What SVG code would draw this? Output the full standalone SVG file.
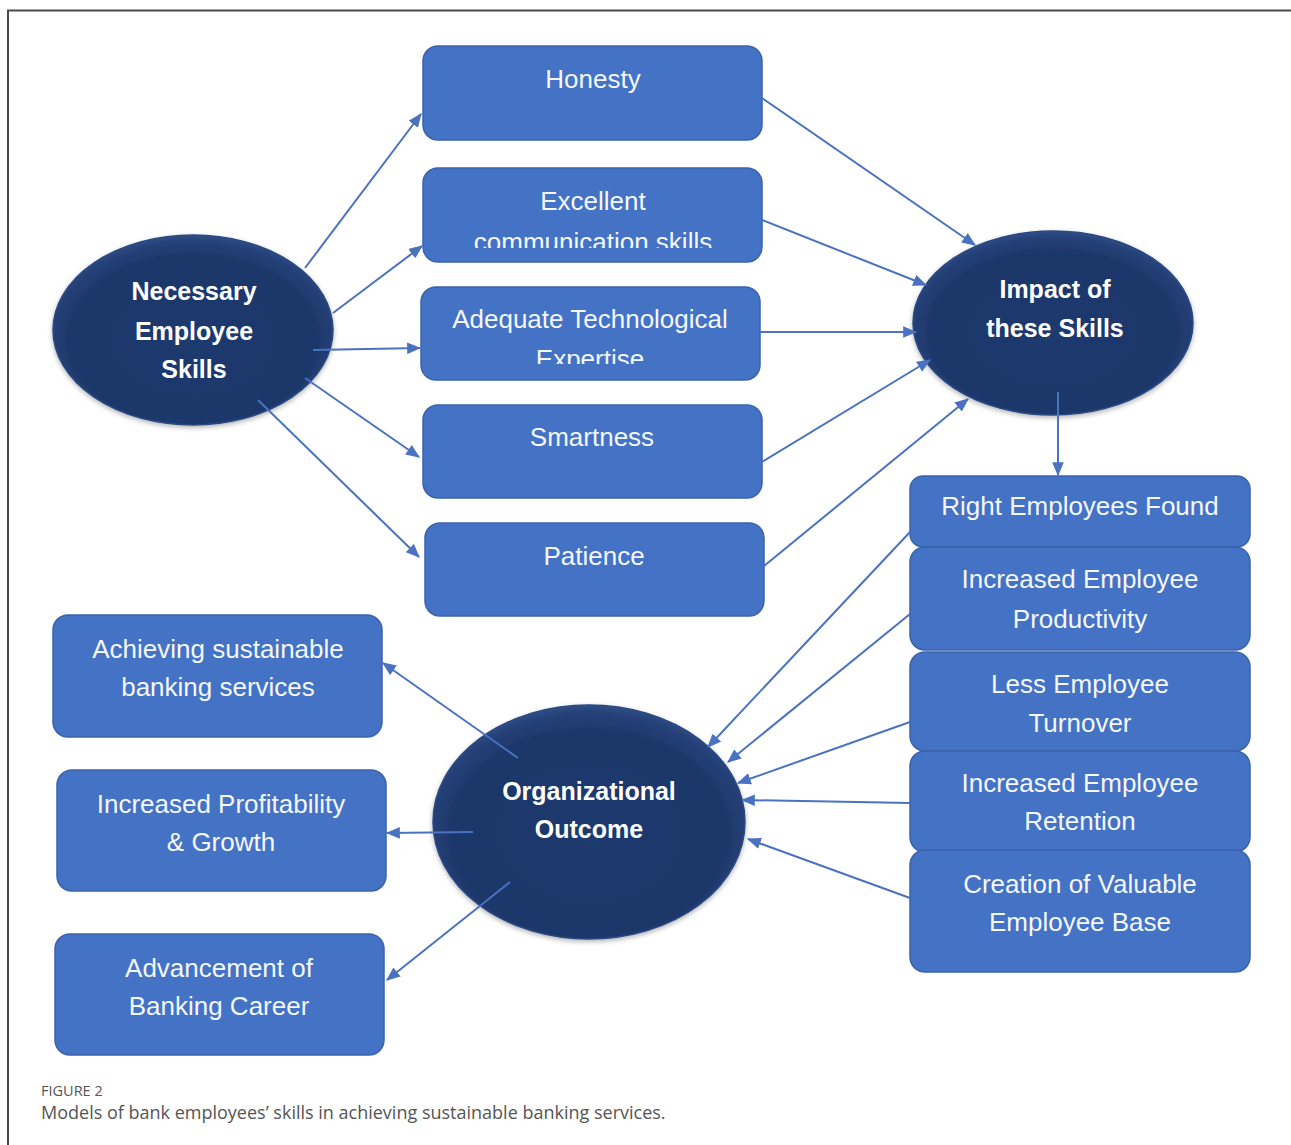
<svg xmlns="http://www.w3.org/2000/svg" width="1291" height="1145" viewBox="0 0 1291 1145">
  <style>
    .box { fill: #4472c4; stroke: #3a63ab; stroke-width: 1.5; }
    .btxt { font-family: "Liberation Sans", Arial, sans-serif; font-size: 26px; fill: #f4f7fc; text-anchor: middle; }
    .oval { fill: url(#navy); stroke: #2b4a82; stroke-width: 1.5; filter: url(#soft); }
    .otxt { font-family: "Liberation Sans", Arial, sans-serif; font-size: 25px; font-weight: bold; fill: #ffffff; text-anchor: middle; }
    .link { stroke: #4a72c0; stroke-width: 2; fill: none; marker-end: url(#head); }
    .cap1 { font-family: "Open Sans", "Liberation Sans", sans-serif; font-size: 14.5px; fill: #555; }
    .cap2 { font-family: "Open Sans", "Liberation Sans", sans-serif; font-size: 18px; fill: #555; }
  </style>
  <defs>
    <radialGradient id="navy" cx="50%" cy="55%" r="55%">
      <stop offset="0" stop-color="#1f3a6e"/>
      <stop offset="0.8" stop-color="#1e376a"/>
      <stop offset="0.95" stop-color="#26437a"/>
      <stop offset="1" stop-color="#324f88"/>
    </radialGradient>
    <filter id="soft" x="-10%" y="-10%" width="120%" height="125%">
      <feGaussianBlur in="SourceAlpha" stdDeviation="2.5"/>
      <feOffset dy="2" result="b"/>
      <feFlood flood-color="#000" flood-opacity="0.3"/>
      <feComposite in2="b" operator="in"/>
      <feMerge><feMergeNode/><feMergeNode in="SourceGraphic"/></feMerge>
    </filter>
    <marker id="head" viewBox="0 0 12 10" refX="11" refY="5" markerWidth="7" markerHeight="6" markerUnits="strokeWidth" orient="auto">
      <path d="M0,0 L12,5 L0,10 z" fill="#4a72c0"/>
    </marker>
    <clipPath id="clipComm"><rect x="423" y="168" width="339" height="80"/></clipPath>
    <clipPath id="clipTech"><rect x="421" y="287" width="339" height="77"/></clipPath>
  </defs>

  <rect width="1291" height="1145" fill="#ffffff"/>
  <!-- frame -->
  <path d="M8,1145 V10.5 H1291" fill="none" stroke="#4a4a4a" stroke-width="2"/>

  <!-- skill boxes -->
  <g id="honesty">
    <rect class="box" x="423" y="46" width="339" height="94" rx="15"/>
    <text class="btxt" x="593" y="88">Honesty</text>
  </g>
  <g id="communication">
    <rect class="box" x="423" y="168" width="339" height="94" rx="15"/>
    <g clip-path="url(#clipComm)">
      <text class="btxt" x="593" y="210">Excellent</text>
      <text class="btxt" x="593" y="251">communication skills</text>
    </g>
  </g>
  <g id="technology">
    <rect class="box" x="421" y="287" width="339" height="93" rx="15"/>
    <g clip-path="url(#clipTech)">
      <text class="btxt" x="590" y="328">Adequate Technological</text>
      <text class="btxt" x="590" y="368">Expertise</text>
    </g>
  </g>
  <g id="smartness">
    <rect class="box" x="423" y="405" width="339" height="93" rx="15"/>
    <text class="btxt" x="592" y="446">Smartness</text>
  </g>
  <g id="patience">
    <rect class="box" x="425" y="523" width="339" height="93" rx="15"/>
    <text class="btxt" x="594" y="565">Patience</text>
  </g>

  <!-- ovals -->
  <g id="necessary-skills">
    <ellipse class="oval" cx="193" cy="330" rx="140" ry="95"/>
    <text class="otxt" x="194" y="300">Necessary</text>
    <text class="otxt" x="194" y="340">Employee</text>
    <text class="otxt" x="194" y="378">Skills</text>
  </g>
  <g id="impact">
    <ellipse class="oval" cx="1053" cy="323" rx="140" ry="92"/>
    <text class="otxt" x="1055" y="298">Impact of</text>
    <text class="otxt" x="1055" y="337">these Skills</text>
  </g>
  <g id="organizational-outcome">
    <ellipse class="oval" cx="589" cy="822" rx="156" ry="117"/>
    <text class="otxt" x="589" y="800">Organizational</text>
    <text class="otxt" x="589" y="838">Outcome</text>
  </g>

  <!-- impact boxes -->
  <g id="right-employees">
    <rect class="box" x="910" y="476" width="340" height="71" rx="13"/>
    <text class="btxt" x="1080" y="515">Right Employees Found</text>
  </g>
  <g id="productivity">
    <rect class="box" x="910" y="547" width="340" height="103" rx="15"/>
    <text class="btxt" x="1080" y="588">Increased Employee</text>
    <text class="btxt" x="1080" y="628">Productivity</text>
  </g>
  <g id="turnover">
    <rect class="box" x="910" y="652" width="340" height="99" rx="15"/>
    <text class="btxt" x="1080" y="693">Less Employee</text>
    <text class="btxt" x="1080" y="732">Turnover</text>
  </g>
  <g id="retention">
    <rect class="box" x="910" y="751" width="340" height="101" rx="15"/>
    <text class="btxt" x="1080" y="792">Increased Employee</text>
    <text class="btxt" x="1080" y="830">Retention</text>
  </g>
  <g id="employee-base">
    <rect class="box" x="910" y="850" width="340" height="122" rx="15"/>
    <text class="btxt" x="1080" y="893">Creation of Valuable</text>
    <text class="btxt" x="1080" y="931">Employee Base</text>
  </g>

  <!-- outcome boxes -->
  <g id="sustainable-banking">
    <rect class="box" x="53" y="615" width="329" height="122" rx="15"/>
    <text class="btxt" x="218" y="658">Achieving sustainable</text>
    <text class="btxt" x="218" y="696">banking services</text>
  </g>
  <g id="profitability">
    <rect class="box" x="57" y="770" width="329" height="121" rx="15"/>
    <text class="btxt" x="221" y="813">Increased Profitability</text>
    <text class="btxt" x="221" y="851">&amp; Growth</text>
  </g>
  <g id="career">
    <rect class="box" x="55" y="934" width="329" height="121" rx="15"/>
    <text class="btxt" x="219" y="977">Advancement of</text>
    <text class="btxt" x="219" y="1015">Banking Career</text>
  </g>

  <!-- connectors, drawn over the ovals -->
  <g id="connectors">
    <line class="link" x1="305" y1="268" x2="421" y2="114"/>
    <line class="link" x1="333" y1="313" x2="422" y2="246"/>
    <line class="link" x1="313" y1="350" x2="420" y2="348"/>
    <line class="link" x1="305" y1="378" x2="419" y2="457"/>
    <line class="link" x1="258" y1="400" x2="419" y2="557"/>

    <line class="link" x1="762" y1="98" x2="975" y2="245"/>
    <line class="link" x1="762" y1="220" x2="926" y2="285"/>
    <line class="link" x1="760" y1="332" x2="916" y2="332"/>
    <line class="link" x1="762" y1="462" x2="930" y2="360"/>
    <line class="link" x1="764" y1="566" x2="968" y2="399"/>
    <line class="link" x1="1058" y1="392" x2="1058" y2="475"/>

    <line class="link" x1="910" y1="532" x2="708" y2="747"/>
    <line class="link" x1="910" y1="614" x2="728" y2="762"/>
    <line class="link" x1="910" y1="722" x2="738" y2="783"/>
    <line class="link" x1="910" y1="803" x2="742" y2="800"/>
    <line class="link" x1="910" y1="898" x2="748" y2="839"/>

    <line class="link" x1="518" y1="758" x2="383" y2="663"/>
    <line class="link" x1="473" y1="832" x2="387" y2="833"/>
    <line class="link" x1="510" y1="882" x2="387" y2="980"/>
  </g>

  <!-- caption -->
  <text class="cap1" x="41" y="1096">FIGURE 2</text>
  <text class="cap2" x="41" y="1119">Models of bank employees’ skills in achieving sustainable banking services.</text>
</svg>
